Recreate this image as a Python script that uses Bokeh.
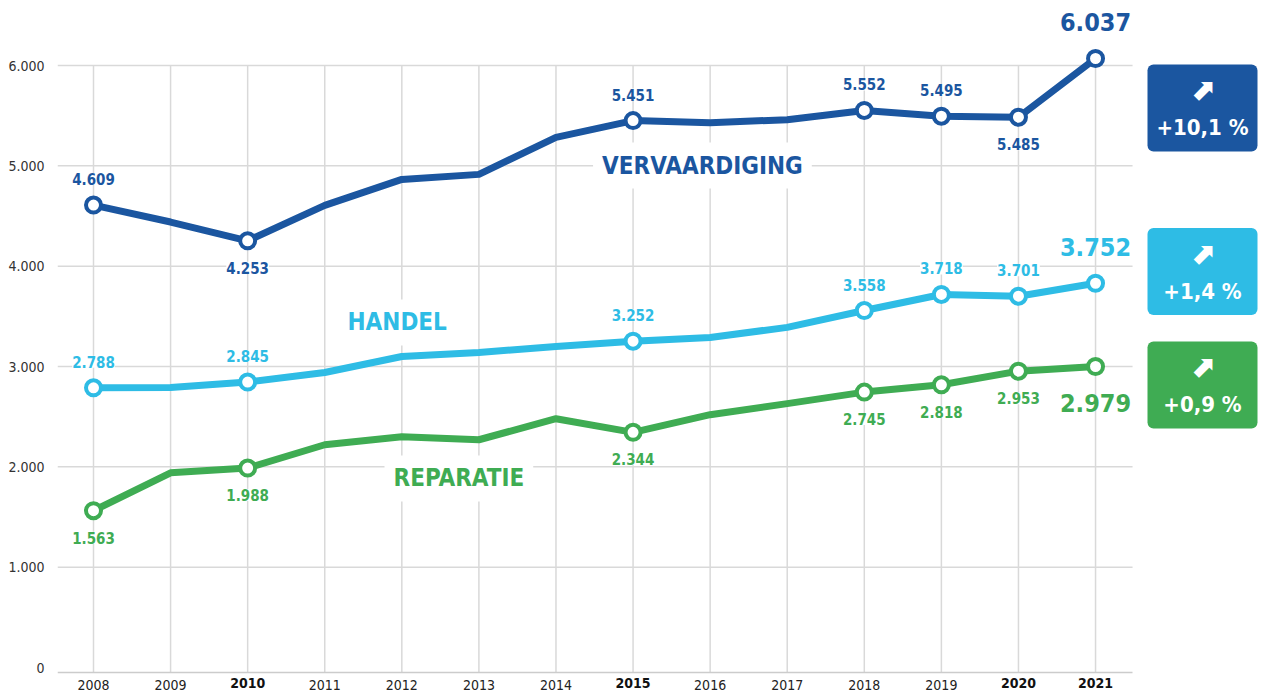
from bokeh.plotting import figure
from bokeh.models import ColumnDataSource, LabelSet, Label, FixedTicker, Range1d
from bokeh.embed import file_html
from bokeh.resources import INLINE
from bokeh.core.properties import value

# ---------------- data ----------------
YEARS = list(range(2008, 2022))
VERVAARDIGING = [4609, 4440, 4253, 4606, 4865, 4915, 5284, 5451, 5430, 5460, 5552, 5495, 5485, 6070]
HANDEL = [2788, 2790, 2845, 2940, 3100, 3140, 3200, 3252, 3290, 3390, 3558, 3718, 3701, 3830]
REPARATIE = [1563, 1940, 1988, 2220, 2300, 2270, 2480, 2344, 2520, 2630, 2745, 2818, 2953, 3000]

MARK_YEARS = [2008, 2010, 2015, 2018, 2019, 2020, 2021]
LABEL_YEARS = [2008, 2010, 2015, 2018, 2019, 2020]
V_LABELS = ["4.609", "4.253", "5.451", "5.552", "5.495", "5.485"]
V_SIDE = ["above", "below", "above", "above", "above", "below"]
H_LABELS = ["2.788", "2.845", "3.252", "3.558", "3.718", "3.701"]
H_SIDE = ["above"] * 6
R_LABELS = ["1.563", "1.988", "2.344", "2.745", "2.818", "2.953"]
R_SIDE = ["below"] * 6
FINAL_LABELS = ["6.037", "3.752", "2.979"]
FINAL_SIDE = ["above", "above", "below"]

SERIES_NAMES = ["VERVAARDIGING", "HANDEL", "REPARATIE"]
BADGE_TEXTS = ["+10,1 %", "+1,4 %", "+0,9 %"]

Y_TICKS = [0, 1000, 2000, 3000, 4000, 5000, 6000]
Y_TICK_LABELS = ["0", "1.000", "2.000", "3.000", "4.000", "5.000", "6.000"]
X_TICK_LABELS = [str(y) for y in YEARS]
BOLD_YEARS = [2010, 2015, 2020, 2021]

# ---------------- style / layout ----------------
V_COLOR = "#1b56a0"
H_COLOR = "#2ebce5"
R_COLOR = "#3fac53"
GRID = "#d9d9d9"
FONT = "'DejaVu Sans Condensed', 'Roboto Condensed', 'Liberation Sans Narrow', sans-serif"

W, H = 1261, 696
BORDER_L = 57
PX_PER_YEAR = 77.08
PX_PER_UNIT = 0.10033
ZERO_PX = 667
X_START = 2008 - 36 / PX_PER_YEAR
X_END = X_START + (W - BORDER_L) / PX_PER_YEAR
X_GRID_END = 2021 + 37 / PX_PER_YEAR
Y_END = ZERO_PX / PX_PER_UNIT
Y_START = -(H - ZERO_PX) / PX_PER_UNIT
AXIS_Y = -5 / PX_PER_UNIT

p = figure(width=W, height=H, x_range=Range1d(X_START, X_END), y_range=Range1d(Y_START, Y_END),
           output_backend="svg", toolbar_location=None,
           min_border_left=BORDER_L, min_border_right=0, min_border_top=0, min_border_bottom=0)
p.outline_line_color = None
p.background_fill_color = "white"
p.xgrid.visible = False
p.ygrid.visible = False

# axes
p.yaxis.ticker = FixedTicker(ticks=Y_TICKS)
p.yaxis.major_label_overrides = {t: l for t, l in zip(Y_TICKS, Y_TICK_LABELS)}
p.yaxis.axis_line_color = None
p.yaxis.major_tick_line_color = None
p.yaxis.minor_tick_line_color = None
p.yaxis.major_label_standoff = 7
p.yaxis.major_label_text_font = FONT
p.yaxis.major_label_text_font_size = "14px"
p.yaxis.major_label_text_color = "#333333"

p.xaxis.fixed_location = AXIS_Y
p.xaxis.ticker = FixedTicker(ticks=YEARS)
p.xaxis.major_label_overrides = {y: ("" if y in BOLD_YEARS else l) for y, l in zip(YEARS, X_TICK_LABELS)}
p.xaxis.bounds = (X_START, X_GRID_END)
p.xaxis.axis_line_color = "#cccccc"
p.xaxis.axis_line_width = 1.5
p.xaxis.major_tick_line_color = None
p.xaxis.minor_tick_line_color = None
p.xaxis.major_label_standoff = 1
p.xaxis.major_label_text_font = FONT
p.xaxis.major_label_text_font_size = "14px"
p.xaxis.major_label_text_color = "#222222"

bold_src = ColumnDataSource(dict(x=BOLD_YEARS, y=[AXIS_Y] * len(BOLD_YEARS),
                                 text=[X_TICK_LABELS[YEARS.index(y)] for y in BOLD_YEARS]))
p.add_layout(LabelSet(x="x", y="y", text="text", source=bold_src, y_offset=-5,
                      text_align="center", text_baseline="top",
                      text_font=value(FONT), text_font_size="14px", text_font_style="bold",
                      text_color="#111111"))

# grid lines
n = len(YEARS)
p.segment(x0=YEARS, y0=[AXIS_Y] * n, x1=YEARS, y1=[Y_TICKS[-1]] * n,
          line_color=GRID, line_width=1.5)
gy = Y_TICKS[1:]
p.segment(x0=[X_START] * len(gy), y0=gy, x1=[X_GRID_END] * len(gy), y1=gy,
          line_color=GRID, line_width=1.5)

series = [
    (VERVAARDIGING, V_COLOR, V_LABELS, V_SIDE),
    (HANDEL, H_COLOR, H_LABELS, H_SIDE),
    (REPARATIE, R_COLOR, R_LABELS, R_SIDE),
]

for vals, col, labels, sides in series:
    p.line(YEARS, vals, line_color=col, line_width=7, line_join="round", line_cap="round")

for i, (vals, col, labels, sides) in enumerate(series):
    mx = MARK_YEARS
    my = [vals[YEARS.index(y)] for y in mx]
    p.scatter(mx, my, size=15, marker="circle", fill_color="white", line_color=col, line_width=4)
    src = ColumnDataSource(dict(
        x=LABEL_YEARS,
        y=[vals[YEARS.index(y)] for y in LABEL_YEARS],
        text=labels,
        off=[26 if s == "above" else -27 for s in sides]))
    ls = LabelSet(x="x", y="y", text="text", source=src, y_offset="off",
                  text_align="center", text_baseline="middle",
                  text_font=value(FONT), text_font_size="15px", text_font_style="bold",
                  text_color=col, background_fill_color="white")
    p.add_layout(ls)
    fsrc = ColumnDataSource(dict(x=[YEARS[-1]], y=[vals[-1]], text=[FINAL_LABELS[i]],
                                 off=[36 if FINAL_SIDE[i] == "above" else -36]))
    p.add_layout(LabelSet(x="x", y="y", text="text", source=fsrc, y_offset="off",
                          text_align="center", text_baseline="middle",
                          text_font=value(FONT), text_font_size="25px", text_font_style="bold",
                          text_color=col))

# series names
name_pos = [(2015.9, 5003), (2011.94, 3439), (2012.74, 1884)]
for (nx, ny), name, col in zip(name_pos, SERIES_NAMES, [V_COLOR, H_COLOR, R_COLOR]):
    lab = Label(x=nx, y=ny, text=name, text_align="center", text_baseline="middle",
                text_font=FONT, text_font_size="24px", text_font_style="bold",
                text_color=col, background_fill_color="white")
    try:
        lab.padding = 9
    except Exception:
        pass
    p.add_layout(lab)

# badges
bx = 2008 + (1202 - 93) / PX_PER_YEAR
badge_y = [5577, 3947, 2816]
badge_cols = [V_COLOR, H_COLOR, R_COLOR]
br = p.rect(x=[bx] * 3, y=badge_y, width=110, height=87, width_units="screen", height_units="screen",
            fill_color=badge_cols, line_color=None)
try:
    br.glyph.border_radius = 6
except Exception:
    pass
bsrc = ColumnDataSource(dict(x=[bx] * 3, y=badge_y, text=BADGE_TEXTS, arrow=["\u2b08"] * 3))
p.add_layout(LabelSet(x="x", y="y", text="arrow", source=bsrc, y_offset=18,
                      text_align="center", text_baseline="middle",
                      text_font=value("DejaVu Sans"), text_font_size="30px", text_font_style="bold",
                      text_color="white"))
p.add_layout(LabelSet(x="x", y="y", text="text", source=bsrc, y_offset=-20,
                      text_align="center", text_baseline="middle",
                      text_font=value(FONT), text_font_size="22px", text_font_style="bold",
                      text_color="white"))

open("out.html", "w").write(file_html(p, INLINE))
